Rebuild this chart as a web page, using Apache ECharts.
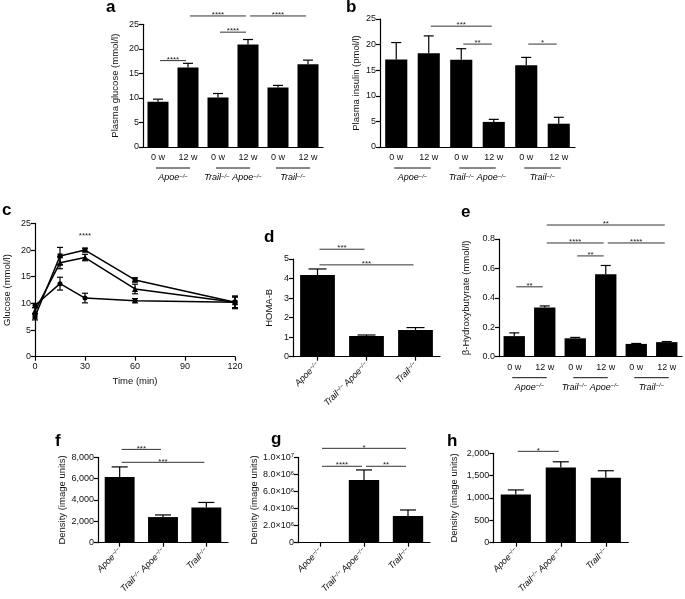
<!DOCTYPE html>
<html>
<head>
<meta charset="utf-8">
<script src="https://cdn.jsdelivr.net/npm/echarts@6/dist/echarts.min.js"></script>
<style>
  html, body { margin: 0; padding: 0; background: #fff; }
  #chart { width: 685px; height: 599px; }
</style>
</head>
<body>
<div id="chart"></div>
<script>
// ---- categories ----
const weekLabels = ['0 w', '12 w', '0 w', '12 w', '0 w', '12 w'];
const genotypes = ['apoe', 'trailApoe', 'trail'];
const groupSpans = [[0, 1, 'apoe'], [2, 3, 'trailApoe'], [4, 5, 'trail']];

// ---- a: plasma glucose ----
const glucoseMean = [9.2, 16.2, 10.1, 20.9, 12.1, 16.85];
const glucoseSem = [0.55, 0.85, 0.8, 1.0, 0.45, 0.85];
const glucoseSig = [[0, 1, 17.6, '****'], [1, 3, 26.7, '****'], [3, 5, 26.7, '****'], [2, 3, 23.4, '****']];

// ---- b: plasma insulin ----
const insulinMean = [17.1, 18.3, 17.05, 4.9, 15.95, 4.55];
const insulinSem = [3.3, 3.4, 2.15, 0.5, 1.55, 1.25];
const insulinSig = [[1, 3, 23.6, '***'], [2, 3, 20.1, '**'], [4, 5, 20.1, '*']];

// ---- c: glucose tolerance ----
const gttTime = [0, 15, 30, 60, 120];
const gttSquare = [7.5, 18.9, 20.0, 14.4, 10.2];
const gttSquareSem = [0.6, 1.6, 0.35, 0.4, 1.0];
const gttTriangle = [8.6, 17.6, 18.6, 12.7, 10.2];
const gttTriangleSem = [0.6, 1.1, 0.6, 0.9, 1.0];
const gttCircle = [9.6, 13.7, 11.0, 10.5, 10.2];
const gttCircleSem = [0.4, 1.2, 0.9, 0.4, 1.2];
const gttNote = [[30, 22.6, '****']];

// ---- d: HOMA-B ----
const homaMean = [4.18, 1.06, 1.37];
const homaSem = [0.31, 0.05, 0.12];
const homaSig = [[0, 1, 5.5, '***'], [0, 2, 4.7, '***']];

// ---- e: beta-hydroxybutyrate ----
const bhbMean = [0.14, 0.335, 0.125, 0.56, 0.087, 0.099];
const bhbSem = [0.022, 0.01, 0.006, 0.06, 0.003, 0.004];
const bhbSig = [[1, 5, 0.895, '**'], [1, 3, 0.773, '****'], [3, 5, 0.773, '****'], [2, 3, 0.685, '**'], [0, 1, 0.475, '**']];

// ---- f, g, h: densities ----
const densFMean = [6150, 2400, 3300];
const densFSem = [950, 200, 470];
const densFSig = [[0, 1, 8740, '***'], [0, 2, 7530, '***']];
const densGMean = [0, 7.35e6, 3.13e6];
const densGSem = [0, 1.17e6, 0.7e6];
const densGSig = [[0, 2, 1.105e7, '*'], [0, 1, 8.95e6, '****'], [1, 2, 8.95e6, '**']];
const densHMean = [1080, 1680, 1455];
const densHSem = [100, 130, 155];
const densHSig = [[0, 1, 2044, '*']];

const FONT = '"Liberation Sans", Arial, sans-serif';
const INK = '#111';

const richLab = {
  i: { fontStyle: 'italic', fontSize: 9, fontFamily: FONT, color: INK },
  s: { fontStyle: 'italic', fontSize: 6, fontFamily: FONT, color: INK, verticalAlign: 'top' }
};
const richExp = {
  s: { fontSize: 6, fontFamily: FONT, color: INK, verticalAlign: 'top' }
};
const genoText = {
  apoe: '{i|Apoe}{s|−/−}',
  trailApoe: '{i|Trail}{s|−/−}{i| Apoe}{s|−/−}',
  trail: '{i|Trail}{s|−/−}'
};

function sci(v) {
  if (v === 0) return '0';
  const e = Math.floor(Math.log10(v) + 1e-9);
  return (v / Math.pow(10, e)).toFixed(1) + '×10{s|' + e + '}';
}
const comma = v => v.toLocaleString('en-US');

// grid boxes: left, top, width, height
const gridBoxes = [
  [143, 24.3, 180, 122.7],   // a
  [380, 19, 195, 128],       // b
  [35, 223.4, 200, 133.3],   // c
  [293, 259, 147, 97.7],     // d
  [499, 239, 183, 117.7],    // e
  [98, 457.3, 130, 85.4],    // f
  [298, 457.3, 132, 85.4],   // g
  [493.3, 453.3, 135, 89.4]  // h
];
const letters = [
  ['a', 106, -1.5], ['b', 346, -1.5], ['c', 2, 201.5], ['d', 264, 228.5],
  ['e', 461, 203.5], ['f', 55, 433], ['g', 271, 431], ['h', 447, 433]
];

const axisLineStyle = { color: '#000', width: 1.2 };

function valAxis(gi, max, interval, name, gap, fmt) {
  return {
    type: 'value', gridIndex: gi, min: 0, max: max, interval: interval,
    name: name, nameLocation: 'middle', nameGap: gap, nameRotate: 90,
    nameTextStyle: { fontFamily: FONT, fontSize: 9.5, color: INK },
    axisLine: { show: true, lineStyle: axisLineStyle },
    axisTick: { show: true, length: 4, lineStyle: axisLineStyle },
    splitLine: { show: false },
    axisLabel: { fontFamily: FONT, fontSize: 9, color: INK, margin: 4, formatter: fmt, rich: richExp }
  };
}

function catAxis(gi, data, rotated) {
  return {
    type: 'category', gridIndex: gi, data: data,
    axisLine: { lineStyle: axisLineStyle },
    axisTick: { show: rotated, alignWithLabel: true, length: 4, lineStyle: axisLineStyle },
    splitLine: { show: false },
    axisLabel: rotated
      ? { interval: 0, rotate: 45, margin: 7, formatter: v => genoText[v], rich: richLab }
      : { interval: 0, margin: 6, fontFamily: FONT, fontSize: 9, color: INK }
  };
}

function errRender(capPx, both) {
  return function (params, api) {
    const x = api.value(0), m = api.value(1), e = api.value(2);
    if (!e) return null;
    const top = api.coord([x, m + e]);
    const bot = api.coord([x, both ? m - e : m]);
    const h = capPx / 2;
    const st = { stroke: '#000', lineWidth: 1.2 };
    const kids = [
      { type: 'line', shape: { x1: top[0], y1: top[1], x2: bot[0], y2: bot[1] }, style: st },
      { type: 'line', shape: { x1: top[0] - h, y1: top[1], x2: top[0] + h, y2: top[1] }, style: st }
    ];
    if (both) kids.push({ type: 'line', shape: { x1: bot[0] - h, y1: bot[1], x2: bot[0] + h, y2: bot[1] }, style: st });
    return { type: 'group', children: kids };
  };
}

function sigRender(list) {
  return function (params, api) {
    const s = list[params.dataIndex];
    const p1 = api.coord([s[0], s[2]]);
    const p2 = api.coord([s[1], s[2]]);
    return {
      type: 'group', children: [
        { type: 'line', shape: { x1: p1[0] + 2, y1: p1[1], x2: p2[0] - 2, y2: p2[1] }, style: { stroke: '#333', lineWidth: 1 } },
        { type: 'text', style: { text: s[3], x: (p1[0] + p2[0]) / 2, y: p1[1] + 3, align: 'center', verticalAlign: 'bottom',
          textAlign: 'center', textVerticalAlign: 'bottom', font: '8px "Liberation Sans", Arial, sans-serif', fill: '#222' } }
      ]
    };
  };
}

function noteRender(list) {
  return function (params, api) {
    const s = list[params.dataIndex];
    const p = api.coord([s[0], s[1]]);
    return { type: 'text', style: { text: s[2], x: p[0], y: p[1], align: 'center', verticalAlign: 'middle',
      textAlign: 'center', textVerticalAlign: 'middle', font: '8px "Liberation Sans", Arial, sans-serif', fill: '#222' } };
  };
}

function groupRender(spans, offset) {
  return function (params, api) {
    const sp = spans[params.dataIndex];
    const p1 = api.coord([sp[0], 0]);
    const p2 = api.coord([sp[1], 0]);
    const y = p1[1] + offset;
    return {
      type: 'group', children: [
        { type: 'line', shape: { x1: p1[0] - 2, y1: y, x2: p2[0] + 2, y2: y }, style: { stroke: INK, lineWidth: 1 } },
        { type: 'text', style: { text: genoText[sp[2]], rich: richLab, x: (p1[0] + p2[0]) / 2, y: y + 5,
          align: 'center', verticalAlign: 'top', textAlign: 'center', textVerticalAlign: 'top' } }
      ]
    };
  };
}

const xAxes = [], yAxes = [], series = [];

function barPanel(gi, cats, rotated, mean, sem, sig, capPx, barW) {
  xAxes[gi] = catAxis(gi, cats, rotated);
  series.push({ type: 'bar', xAxisIndex: gi, yAxisIndex: gi, data: mean, barWidth: barW,
    itemStyle: { color: '#000' }, silent: true });
  series.push({ type: 'custom', xAxisIndex: gi, yAxisIndex: gi, clip: false, silent: true,
    data: mean.map((m, i) => [i, m, sem[i]]), encode: { x: 0, y: 1 }, renderItem: errRender(capPx, false) });
  series.push({ type: 'custom', xAxisIndex: gi, yAxisIndex: gi, clip: false, silent: true,
    data: sig.map(s => [s[0], s[2]]), encode: { x: 0, y: 1 }, renderItem: sigRender(sig) });
  if (!rotated) {
    series.push({ type: 'custom', xAxisIndex: gi, yAxisIndex: gi, clip: false, silent: true,
      data: groupSpans.map(s => [s[0], 0]), encode: { x: 0, y: 1 }, renderItem: groupRender(groupSpans, 21) });
  }
}

// a
yAxes[0] = valAxis(0, 25, 5, 'Plasma glucose (mmol/l)', 23, v => String(v));
barPanel(0, weekLabels, false, glucoseMean, glucoseSem, glucoseSig, 10, '70%');
// b
yAxes[1] = valAxis(1, 25, 5, 'Plasma insulin (pmol/l)', 19, v => String(v));
barPanel(1, weekLabels, false, insulinMean, insulinSem, insulinSig, 10, '68%');
// d
yAxes[3] = valAxis(3, 5, 1, 'HOMA-B', 19, v => String(v));
barPanel(3, genotypes, true, homaMean, homaSem, homaSig, 18, '71%');
// e
yAxes[4] = valAxis(4, 0.8, 0.2, 'β-Hydroxybutyrate (mmol/l)', 28, v => v.toFixed(1));
barPanel(4, weekLabels, false, bhbMean, bhbSem, bhbSig, 10, '70%');
// f
yAxes[5] = valAxis(5, 8000, 2000, 'Density (image units)', 31, comma);
barPanel(5, genotypes, true, densFMean, densFSem, densFSig, 16, '69%');
// g
yAxes[6] = valAxis(6, 1e7, 2e6, 'Density (image units)', 39, sci);
barPanel(6, genotypes, true, densGMean, densGSem, densGSig, 16, '69%');
// h
yAxes[7] = valAxis(7, 2000, 500, 'Density (image units)', 34, comma);
barPanel(7, genotypes, true, densHMean, densHSem, densHSig, 16, '67%');

// c
xAxes[2] = {
  type: 'value', gridIndex: 2, min: 0, max: 120, interval: 30,
  name: 'Time (min)', nameLocation: 'middle', nameGap: 20,
  nameTextStyle: { fontFamily: FONT, fontSize: 9.5, color: INK },
  axisLine: { show: true, lineStyle: axisLineStyle },
  axisTick: { show: true, length: 4, lineStyle: axisLineStyle },
  splitLine: { show: false },
  axisLabel: { fontFamily: FONT, fontSize: 9, color: INK, margin: 5 }
};
yAxes[2] = valAxis(2, 25, 5, 'Glucose (mmol/l)', 23, v => String(v));

const gttSets = [
  [gttSquare, gttSquareSem, 'rect', 5],
  [gttTriangle, gttTriangleSem, 'triangle', 6],
  [gttCircle, gttCircleSem, 'circle', 5]
];
gttSets.forEach(set => {
  series.push({ type: 'line', xAxisIndex: 2, yAxisIndex: 2, silent: true,
    data: gttTime.map((t, i) => [t, set[0][i]]), symbol: set[2], symbolSize: set[3], showSymbol: true,
    lineStyle: { color: '#000', width: 1.5 }, itemStyle: { color: '#000', borderWidth: 0 } });
  series.push({ type: 'custom', xAxisIndex: 2, yAxisIndex: 2, clip: false, silent: true,
    data: gttTime.map((t, i) => [t, set[0][i], set[1][i]]), encode: { x: 0, y: 1 }, renderItem: errRender(6, true) });
});
series.push({ type: 'custom', xAxisIndex: 2, yAxisIndex: 2, clip: false, silent: true,
  data: gttNote.map(n => [n[0], n[1]]), encode: { x: 0, y: 1 }, renderItem: noteRender(gttNote) });

const option = {
  animation: false,
  backgroundColor: '#fff',
  title: letters.map(l => ({ text: l[0], left: l[1], top: l[2], padding: 0,
    textStyle: { fontFamily: FONT, fontSize: 17, fontWeight: 'bold', color: '#000' } })),
  grid: gridBoxes.map(g => ({ left: g[0], top: g[1], width: g[2], height: g[3], containLabel: false, outerBoundsMode: 'none' })),
  xAxis: xAxes,
  yAxis: yAxes,
  series: series
};

const chart = echarts.init(document.getElementById('chart'), null, { renderer: 'canvas' });
chart.setOption(option);
</script>
</body>
</html>
